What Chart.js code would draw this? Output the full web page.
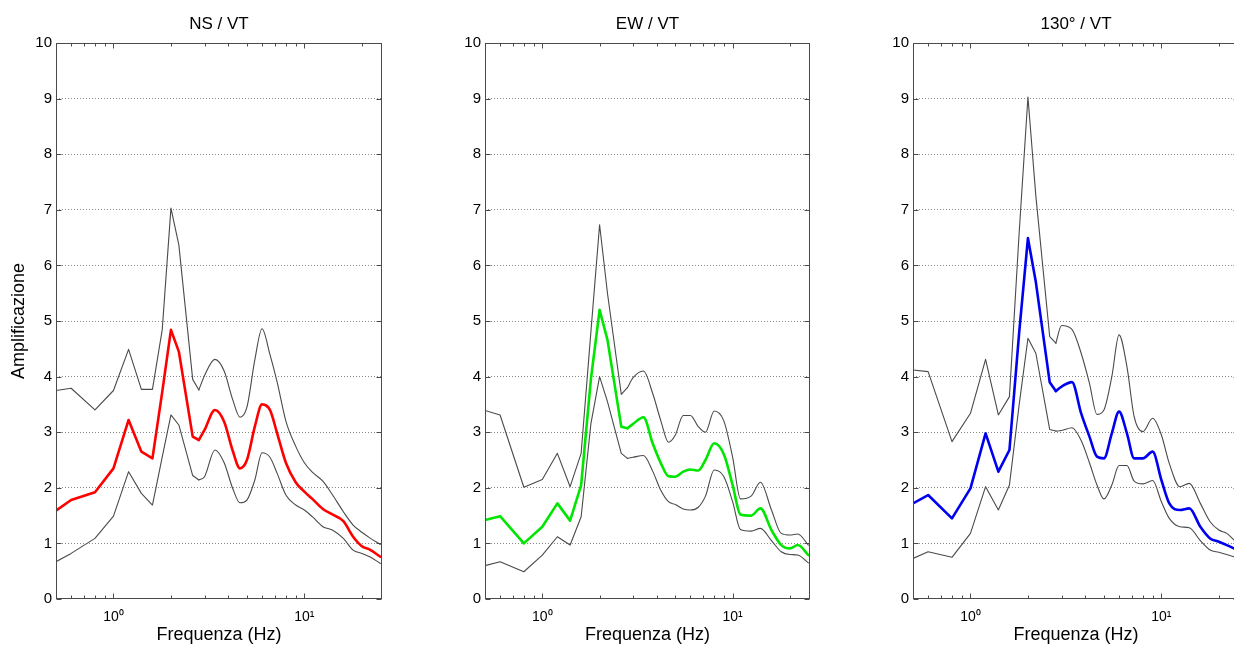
<!DOCTYPE html>
<html>
<head>
<meta charset="utf-8">
<script src="https://cdn.jsdelivr.net/npm/chart.js@4.4.1/dist/chart.umd.min.js"></script>
<style>
  html, body { margin: 0; padding: 0; background: #fff; width: 1234px; height: 648px; overflow: hidden; }
  .panel { position: absolute; top: 0; }
  canvas { display: block; }
</style>
</head>
<body>
<div class="panel" style="left:0px"><canvas id="ns" width="392" height="648"></canvas></div>
<div class="panel" style="left:420px"><canvas id="ew" width="400" height="648"></canvas></div>
<div class="panel" style="left:850px"><canvas id="r130" width="399" height="648"></canvas></div>
<script>
// Frequency samples (Hz) shared by every spectral ratio curve
const freq = [0.5, 0.6, 0.8, 1.0, 1.2, 1.4, 1.6, 1.8, 2.0, 2.2, 2.6, 2.8, 3.0, 3.4, 3.8, 4.2, 4.6, 5.0, 5.5, 6.0, 6.6, 7.2, 8.0, 9.0, 10, 11, 12.5, 14, 16, 18, 20, 22, 25];

// NS / VT : mean ratio with upper and lower bounds
const nsUpper = [3.75, 3.79, 3.40, 3.75, 4.49, 3.77, 3.77, 4.84, 7.03, 6.37, 3.95, 3.76, 4.02, 4.31, 4.10, 3.60, 3.27, 3.45, 4.30, 4.86, 4.40, 3.90, 3.20, 2.75, 2.45, 2.28, 2.12, 1.88, 1.57, 1.33, 1.20, 1.10, 0.98];
const nsMean  = [1.59, 1.78, 1.92, 2.35, 3.22, 2.65, 2.53, 3.72, 4.84, 4.45, 2.92, 2.86, 3.04, 3.40, 3.19, 2.68, 2.35, 2.50, 3.10, 3.50, 3.40, 2.98, 2.45, 2.10, 1.93, 1.80, 1.62, 1.52, 1.40, 1.12, 0.95, 0.89, 0.76];
const nsLower = [0.67, 0.82, 1.09, 1.49, 2.29, 1.90, 1.69, 2.55, 3.31, 3.13, 2.22, 2.14, 2.20, 2.68, 2.45, 2.00, 1.73, 1.78, 2.14, 2.63, 2.55, 2.26, 1.87, 1.69, 1.60, 1.48, 1.30, 1.24, 1.09, 0.88, 0.82, 0.76, 0.64];

// EW / VT
const ewUpper = [3.39, 3.31, 2.01, 2.15, 2.62, 2.02, 2.62, 4.80, 6.73, 5.50, 3.68, 3.80, 3.98, 4.10, 3.70, 3.20, 2.82, 2.95, 3.30, 3.30, 3.10, 3.00, 3.38, 3.20, 2.55, 1.80, 1.85, 2.10, 1.60, 1.18, 1.15, 1.17, 0.97];
const ewMean  = [1.42, 1.49, 1.00, 1.30, 1.72, 1.41, 2.05, 3.95, 5.20, 4.66, 3.10, 3.07, 3.15, 3.27, 2.80, 2.44, 2.21, 2.20, 2.29, 2.33, 2.31, 2.50, 2.80, 2.60, 2.05, 1.52, 1.50, 1.63, 1.24, 0.97, 0.91, 0.97, 0.79];
const ewLower = [0.60, 0.67, 0.49, 0.79, 1.12, 0.97, 1.48, 3.15, 4.00, 3.55, 2.62, 2.53, 2.55, 2.58, 2.30, 1.95, 1.75, 1.70, 1.62, 1.60, 1.65, 1.85, 2.32, 2.20, 1.75, 1.25, 1.22, 1.27, 1.05, 0.85, 0.80, 0.79, 0.65];

// 130° / VT
const r130Upper = [4.12, 4.09, 2.83, 3.34, 4.31, 3.31, 3.64, 6.60, 9.03, 7.25, 4.72, 4.60, 4.92, 4.85, 4.42, 3.88, 3.32, 3.40, 4.00, 4.75, 4.18, 3.28, 3.01, 3.25, 2.95, 2.44, 2.02, 2.08, 1.72, 1.39, 1.24, 1.18, 1.00];
const r130Mean  = [1.72, 1.87, 1.45, 1.99, 2.98, 2.29, 2.68, 4.80, 6.49, 5.70, 3.90, 3.74, 3.82, 3.90, 3.34, 2.92, 2.56, 2.53, 2.98, 3.37, 2.98, 2.53, 2.53, 2.65, 2.14, 1.72, 1.60, 1.63, 1.30, 1.09, 1.03, 0.97, 0.88];
const r130Lower = [0.73, 0.85, 0.75, 1.18, 2.02, 1.60, 2.05, 3.50, 4.69, 4.42, 3.05, 3.02, 3.03, 3.08, 2.85, 2.45, 2.05, 1.80, 2.05, 2.40, 2.40, 2.12, 2.07, 2.13, 1.75, 1.45, 1.30, 1.28, 1.05, 0.88, 0.84, 0.80, 0.74];

// Log-axis tick values and decade labels
const freqTicks = [0.6, 0.7, 0.8, 0.9, 1, 2, 3, 4, 5, 6, 7, 8, 9, 10, 20];
const decadeLabels = { 1: '10\u2070', 10: '10\u00B9' };
const yMin = 0, yMax = 10;

// Above this frequency the curves are drawn as smooth splines
const smoothFrom = 2.8;

const FONT = '"Liberation Sans", Arial, Helvetica, sans-serif';

// Box around the plot area plus MATLAB-style inward tick marks
const frameTicks = {
  id: 'frameTicks',
  afterDraw(chart) {
    const { ctx, chartArea: a, scales: { x, y } } = chart;
    const L = Math.round(a.left) + 0.5, R = Math.round(a.right) - 0.5;
    const T = Math.round(a.top) + 0.5, B = Math.round(a.bottom) - 0.5;
    ctx.save();
    ctx.strokeStyle = '#4a4a4a';
    ctx.lineWidth = 1;
    ctx.beginPath();
    x.ticks.forEach(t => {
      const px = Math.round(x.getPixelForValue(t.value)) + 0.5;
      const len = Number.isInteger(Math.log10(t.value)) ? 5 : 3;
      ctx.moveTo(px, B); ctx.lineTo(px, B - len);
      ctx.moveTo(px, T); ctx.lineTo(px, T + len);
    });
    y.ticks.forEach(t => {
      const py = Math.round(y.getPixelForValue(t.value)) + 0.5;
      ctx.moveTo(L, py); ctx.lineTo(L + 5, py);
      ctx.moveTo(R, py); ctx.lineTo(R - 5, py);
    });
    ctx.stroke();
    ctx.strokeRect(L, T, R - L, B - T);
    ctx.restore();
  }
};

// Split a curve into a straight-segment part (low frequencies) and a spline part
function curveParts(values, style) {
  const pts = values.map((v, i) => ({ x: freq[i], y: v }));
  const k = freq.indexOf(smoothFrom);
  const base = Object.assign({ pointRadius: 0, fill: false, borderJoinStyle: 'round', borderCapStyle: 'round' }, style);
  return [
    Object.assign({ data: pts.slice(0, k + 1), tension: 0 }, base),
    Object.assign({ data: pts.slice(k), cubicInterpolationMode: 'monotone' }, base)
  ];
}

function makePanel(id, title, upper, mean, lower, color, axisWidth, yTitle) {
  const boundStyle = { borderColor: '#4a4a4a', borderWidth: 1.1 };
  new Chart(document.getElementById(id), {
    type: 'line',
    data: {
      datasets: [
        ...curveParts(mean, { label: 'media', borderColor: color, borderWidth: 2.6 }),
        ...curveParts(upper, Object.assign({ label: 'max' }, boundStyle)),
        ...curveParts(lower, Object.assign({ label: 'min' }, boundStyle))
      ]
    },
    options: {
      responsive: false,
      animation: false,
      devicePixelRatio: 1,
      layout: { padding: { left: 0, right: 10, top: 0, bottom: 0 } },
      plugins: {
        legend: { display: false },
        tooltip: { enabled: false },
        title: {
          display: true, text: title, fullSize: false, color: '#000',
          font: { family: FONT, size: 17, weight: 'normal', lineHeight: 1.2 },
          padding: { top: 14, bottom: 8.6 }
        }
      },
      scales: {
        x: {
          type: 'logarithmic', min: 0.5, max: 25.5,
          afterBuildTicks: s => { s.ticks = freqTicks.map(v => ({ value: v })); },
          afterFit: s => { s.height = 49; },
          grid: { display: false, drawTicks: false },
          border: { display: false },
          ticks: {
            autoSkip: false, maxRotation: 0, minRotation: 0, padding: 10, color: '#000',
            font: { family: FONT, size: 14 },
            callback: v => decadeLabels[v] || ''
          },
          title: {
            display: true, text: 'Frequenza (Hz)', color: '#000',
            font: { family: FONT, size: 18, lineHeight: 1.2 },
            padding: { top: 0, bottom: 2 }
          }
        },
        y: {
          min: yMin, max: yMax,
          afterFit: s => { s.width = axisWidth; },
          grid: {
            drawTicks: false, lineWidth: 1,
            color: c => (c.tick && (c.tick.value === yMin || c.tick.value === yMax)) ? 'rgba(0,0,0,0)' : '#8a8a8a'
          },
          border: { display: false, dash: [1, 2] },
          ticks: { stepSize: 1, padding: 4, color: '#000', font: { family: FONT, size: 15 } },
          title: {
            display: !!yTitle, text: yTitle || '', color: '#000',
            font: { family: FONT, size: 18, lineHeight: 1.2 },
            padding: { top: 8.7, bottom: 0 }
          }
        }
      }
    },
    plugins: [frameTicks]
  });
}

makePanel('ns', 'NS / VT', nsUpper, nsMean, nsLower, '#ff0000', 56, 'Amplificazione');
makePanel('ew', 'EW / VT', ewUpper, ewMean, ewLower, '#00e600', 65, null);
makePanel('r130', '130\u00B0 / VT', r130Upper, r130Mean, r130Lower, '#0000f0', 63, null);
</script>
</body>
</html>
